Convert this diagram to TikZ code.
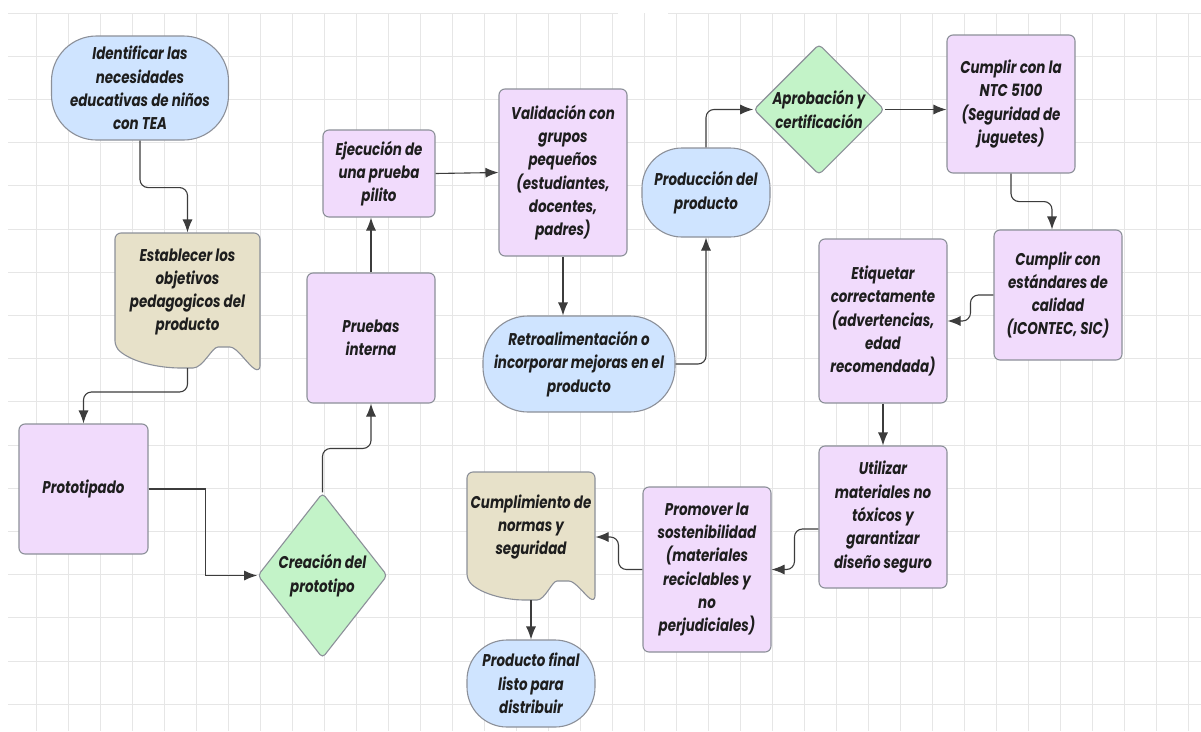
\documentclass[tikz,border=0pt]{standalone}
\usepackage{fontspec}
\newfontfamily\flowfont{Poppins}[FakeStretch=0.79]
\usepackage{tikz}
\usetikzlibrary{shapes,arrows.meta}
\definecolor{lblue}{HTML}{CFE4FF}
\definecolor{lilac}{HTML}{F1DBFC}
\definecolor{mint}{HTML}{C3F3C8}
\definecolor{sand}{HTML}{E7E1C9}
\definecolor{edgeg}{HTML}{8C9099}
\definecolor{ink}{HTML}{3C3C3C}
\definecolor{txt}{HTML}{1E1E1E}
\definecolor{gridc}{HTML}{E6E6E6}

\begin{document}
\begin{tikzpicture}[x=1pt, y=-1pt,
  flow/.style={draw=edgeg, line width=1.1pt, text=txt, align=center, inner sep=2,
    font=\flowfont\bfseries\itshape\fontsize{17}{23.3}\selectfont},
  stepbox/.style={flow, rectangle, rounded corners=6pt, fill=lilac, minimum width=128, minimum height=130},
  termbox/.style={flow, rectangle, rounded corners=40pt, fill=lblue, minimum width=128, minimum height=88},
  decbox/.style={flow, diamond, rounded corners=4pt, fill=mint, inner sep=0},
  docbox/.style={flow, draw=none, minimum width=128},
  docline/.style={draw=edgeg, fill=sand, line width=1.1pt, rounded corners=6pt},
  conn/.style={draw=ink, line width=1.1pt, rounded corners=8pt, -{Latex[length=13pt,width=10pt]}},
  gridline/.style={draw=gridc, line width=0.8pt}]
\useasboundingbox (0,0) rectangle (1201,731);
\fill[white] (0,0) rectangle (1201,731);
%grid
\foreach \gx in {36,68,...,1188} \draw[gridline] (\gx,13) -- (\gx,731);
\foreach \gy in {56.2,99.4,...,710} \draw[gridline] (8,\gy) -- (1201,\gy);
\draw[gridline] (8,13) -- (618,13) (668,13) -- (1201,13);

%document shapes
\draw[docline] (115,290) -- (115,233) -- (260,233) -- (260,372) .. controls (248,365) and (237,347) .. (224,347) .. controls (212,347) and (203,368) .. (187,368) .. controls (158,368) and (132,362) .. (115,347) -- cycle;
\draw[docline] (467,530) -- (467,472) -- (595,472) -- (595,602) .. controls (585,595) and (575,581) .. (563,581) .. controls (552,581) and (545,600) .. (531,600) .. controls (505,600) and (482,594) .. (467,580) -- cycle;
\coordinate (est-out) at (187.5,368);
\coordinate (cump-out) at (531,600);

\node[termbox, minimum width=177, minimum height=104, rounded corners=45pt] (idn) at (140,88) {Identificar las\\necesidades\\educativas de niños\\con TEA};
\node[docbox, minimum width=145, minimum height=118] (est) at (187.5,292) {Establecer los\\objetivos\\pedagogicos del\\producto};
\node[stepbox, minimum width=129] (proto) at (83.5,489) {Prototipado};
\node[decbox, minimum width=123, minimum height=165] (crea) at (322.5,575.5) {Creación del\\prototipo};
\node[stepbox] (prue) at (371,338) {Pruebas\\interna};
\node[stepbox, minimum width=112, minimum height=87] (ejec) at (379,173.5) {Ejecución de\\una prueba\\pilito};
\node[stepbox, minimum height=167] (val) at (563,172.5) {Validación con\\grupos\\pequeños\\(estudiantes,\\docentes,\\padres)};
\node[termbox, minimum width=192, minimum height=96, rounded corners=45pt] (retro) at (579,364) {Retroalimentación o\\incorporar mejoras en el\\producto};
\node[termbox, minimum height=89] (prod) at (706,192.5) {Producción del\\producto};
\node[decbox, minimum width=122, minimum height=125] (apro) at (819,109.5) {Aprobación y\\certificación};
\node[stepbox, minimum height=138] (ntc) at (1011,104) {Cumplir con la\\NTC 5100\\(Seguridad de\\juguetes)};
\node[stepbox] (estd) at (1058,295) {Cumplir con\\estándares de\\calidad\\(ICONTEC, SIC)};
\node[stepbox, minimum height=164] (etiq) at (883,321) {Etiquetar\\correctamente\\(advertencias,\\edad\\recomendada)};
\node[stepbox, minimum height=142] (util) at (883,517) {Utilizar\\materiales no\\tóxicos y\\garantizar\\diseño seguro};
\node[stepbox, minimum height=165] (prom) at (707,569.5) {Promover la\\sostenibilidad\\(materiales\\reciclables y\\no\\perjudiciales)};
\node[docbox, minimum height=110] (cump) at (531,527) {Cumplimiento de\\normas y\\seguridad};
\node[termbox, minimum height=87] (final) at (531,683.5) {Producto final\\listo para\\distribuir};

\draw[conn] (idn.south) -- ++(0,47) -| (est.north);
\draw[conn] (est-out) -- ++(0,24) -| (proto.north);
\draw[conn, sharp corners] (proto.east) -- ++(57,0) |- (crea.west);
\draw[conn] (crea.north) -- ++(0,-44) -| (prue.south);
\draw[conn] (prue.north) -- (prue.north |- ejec.south);
\draw[conn] (ejec.east) -- (val.west);
\draw[conn] (val.south) -- (val.south |- retro.north);
\draw[conn] (retro.east) -| (prod.south);
\draw[conn] (prod.north) |- (apro.west);
\draw[conn] (apro.east) -- (apro.east -| ntc.west);
\draw[conn] (ntc.south) -- ++(0,28) -| ([xshift=-6pt]estd.north);
\draw[conn] (estd.west) -- ++(-23,0) |- (etiq.east);
\draw[conn] (etiq.south) -- (util.north);
\draw[conn] ([yshift=-12pt]util.west) -- ++(-24,0) |- (prom.east);
\draw[conn] (prom.west) -- ++(-24,0) |- ([yshift=-10pt]cump.east);
\draw[conn] (cump-out) -- (final.north);
\end{tikzpicture}
\end{document}
